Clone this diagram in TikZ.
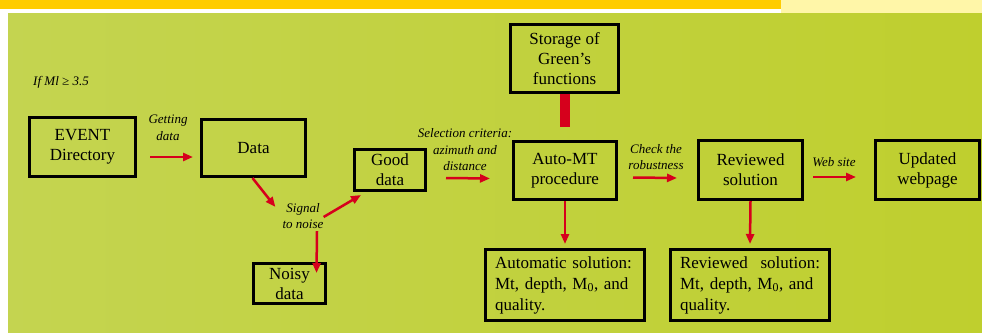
\documentclass[tikz,border=0pt]{standalone}
\usepackage{fontspec}
\setmainfont{Liberation Serif}
\usetikzlibrary{calc}
\usetikzlibrary{arrows.meta}

\definecolor{bandyellow}{RGB}{255,204,0}
\definecolor{paleyellow}{RGB}{255,246,168}
\definecolor{leafgreen}{RGB}{196,212,80}
\definecolor{leafgreendark}{RGB}{191,207,46}
\definecolor{flowred}{RGB}{214,0,28}

\tikzset{
  box/.style={draw=black, line width=3pt, inner sep=0pt, align=center, font=\fontsize{17}{20}\selectfont},
  infobox/.style={box, minimum width=159pt, minimum height=71pt, text width=140pt, align=left, font=\fontsize{17}{21}\selectfont},
  redarrow/.style={flowred, line width=2.5pt, -{Triangle[length=10pt,width=8pt]}},
  lbl/.style={inner sep=0pt, align=center, font=\itshape\fontsize{13}{16.5}\selectfont},
}

\begin{document}
\begin{tikzpicture}[x=1pt,y=-1pt]

\useasboundingbox (0,0) rectangle (982,332);

% backdrop
\fill[white] (0,0) rectangle (982,332);
\fill[bandyellow] (0,0) rectangle (781,9);
\fill[paleyellow] (781,0) rectangle (982,13);
\shade[left color=leafgreen, right color=leafgreendark] (8,13) rectangle (982,332);

% boxes
\node[box, minimum width=106pt, minimum height=59pt] (ev) at (82.5,147) {EVENT\\Directory};
\node[box, minimum width=104pt, minimum height=57pt] (dat) at (253.5,148) {Data};
\node[box, minimum width=71pt, minimum height=41pt] (good) at (390,170) {Good\\data};
\node[box, minimum width=72pt, minimum height=40pt] (noisy) at (289.5,283.5) {Noisy\\data};
\node[box, minimum width=108pt, minimum height=68pt] (store) at (564.5,58.5) {Storage of\\Green's\\functions};
\node[box, minimum width=103pt, minimum height=58pt] (auto) at (565,170.5) {Auto-MT\\procedure};
\node[box, minimum width=104pt, minimum height=59pt] (rev) at (750.5,170) {Reviewed\\solution};
\node[box, minimum width=104pt, minimum height=59pt] (upd) at (927.5,170) {Updated\\webpage};
\node[infobox] (autosol) at (565,285) {Automatic solution:\\Mt, depth, M\textsubscript{0}, and\\quality.};
\node[infobox] (revsol) at (750,285) {Reviewed\hfill solution:\\Mt, depth, M\textsubscript{0}, and\\quality.};

% labels
\node[lbl] (cond) at (61,82) {If Ml ≥ 3.5};
\node[lbl] (getlbl) at (168,128) {Getting\\data};
\node[lbl] (snr) at (303,216) {Signal\\to noise};
\node[lbl] (sellbl) at (465,150) {Selection criteria:\\azimuth and\\distance};
\node[lbl] (chklbl) at (656,157) {Check the\\robustness};
\node[lbl] (weblbl) at (834,162) {Web site};

% connectors
\draw[redarrow] ($(ev.east)+(13,10)$) -- ($(dat.west)+(-7,9)$);
\draw[redarrow] ($(dat.south)+(-1,0)$) -- ($(snr.west)+(-7,-9)$);
\draw[redarrow] ($(snr.east)+(0,1)$) -- ($(good.south west)+(8,3)$);
\draw[redarrow] ($(snr.south)+(14,2)$) -- ($(noisy.north)+(27,11)$);
\draw[redarrow] ($(good.east)+(19,8)$) -- ($(auto.west)+(-22,8)$);
\draw[redarrow] ($(auto.east)+(15,7)$) -- ($(rev.west)+(-20,8)$);
\draw[redarrow] ($(rev.east)+(9,7)$) -- ($(upd.west)+(-18,7)$);
\draw[redarrow] (auto.south) -- ($(autosol.north)+(0,-4)$);
\draw[redarrow] (rev.south) -- ($(revsol.north)+(0,-4)$);
\draw[flowred, line width=10pt] (store.south) -- ($(store.south)+(0,33)$);

\end{tikzpicture}
\end{document}
